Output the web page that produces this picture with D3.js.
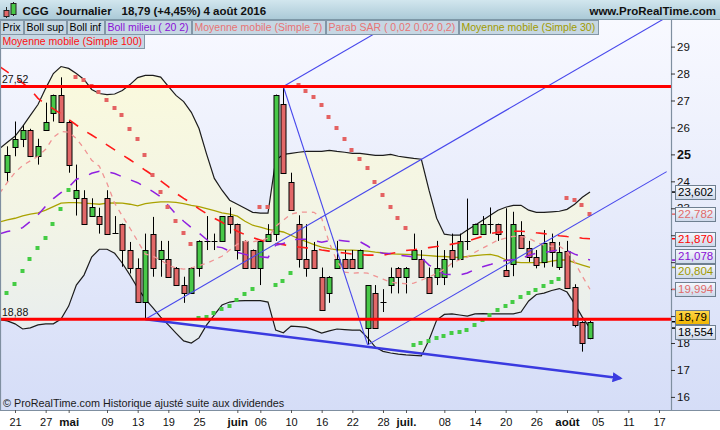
<!DOCTYPE html>
<html lang="fr">
<head>
<meta charset="utf-8">
<title>CGG – Journalier</title>
<script src="https://cdn.jsdelivr.net/npm/d3@7"></script>
<style>
  html, body { margin: 0; padding: 0; background: #ffffff; }
  svg { display: block; font-family: "Liberation Sans", Arial, sans-serif; }
</style>
</head>
<body>
<svg id="chart" width="720" height="430"></svg>
<script>
// ---------------------------------------------------------------
// CGG daily bars, 19 Apr 2016 -> 4 Aug 2016 (first row: indicators only)
// ---------------------------------------------------------------
const startDay = "2016-04-19";
const endDay   = "2016-08-18";   // the time axis runs past the last bar

const open  = [null, 24.33, 25.27, 25.58, 25.92, 24.94, 25.92, 26.55, 27.19, 26.22, 23.37,
  23.37, 22.71, 22.71, 23.37, 22.07, 22.41, 21.45, 20.80, 19.51, 22.06,
  21.10, 21.10, 20.80, 20.15, 19.84, 20.80, 21.79, 21.79, 21.79, 22.71,
  22.41, 21.79, 21.45, 20.80, 21.79, 22.06, 26.88, 23.98, 22.41, 21.10,
  21.45, 20.46, 19.84, 20.80, 21.10, 21.10, 20.80, 18.55, 19.84, 19.51,
  20.15, 20.80, 20.46, 21.10, 21.10, 20.46, 20.46, 20.46, 21.45, 21.10,
  21.79, 22.06, 22.06, 22.41, 22.41, 20.70, 20.95, 22.00, 21.51, 21.20,
  21.01, 21.75, 20.83, 21.41, 20.09, 18.79, 18.18];
const high  = [null, 25.30, 26.22, 26.08, 25.95, 25.58, 26.92, 27.22, 27.86, 26.25, 24.62,
  23.67, 23.37, 23.02, 23.67, 22.71, 22.43, 21.75, 21.14, 22.06, 22.68,
  21.79, 21.79, 20.82, 20.46, 20.82, 21.81, 22.71, 22.06, 22.71, 23.03,
  22.43, 21.81, 21.47, 21.81, 22.41, 27.22, 27.52, 24.32, 22.74, 22.41,
  21.75, 20.80, 20.48, 21.79, 21.45, 21.45, 21.47, 20.15, 20.15, 20.00,
  20.80, 20.82, 20.82, 22.06, 21.45, 20.80, 21.79, 21.45, 22.06, 22.06,
  23.36, 22.43, 22.71, 23.03, 22.43, 23.00, 22.87, 22.52, 21.79, 21.45,
  22.19, 22.06, 21.75, 21.79, 20.18, 18.81, 18.83];
const low   = [null, 23.98, 24.93, 25.27, 24.90, 24.62, 25.90, 26.22, 26.20, 24.32, 22.73,
  22.38, 22.69, 22.06, 22.04, 22.05, 20.83, 20.58, 19.49, 18.88, 20.46,
  20.46, 20.44, 20.13, 19.49, 19.82, 20.46, 21.45, 21.45, 21.77, 22.06,
  21.10, 20.78, 20.78, 20.15, 21.77, 21.79, 24.30, 22.93, 20.80, 20.46,
  20.78, 19.20, 19.49, 20.78, 20.78, 20.78, 20.78, 17.93, 18.53, 19.15,
  19.84, 19.84, 19.84, 21.08, 20.44, 19.82, 20.15, 20.15, 20.80, 21.08,
  21.45, 22.04, 22.04, 22.06, 21.79, 20.46, 20.48, 21.49, 21.01, 20.77,
  20.80, 20.83, 20.71, 20.01, 18.58, 17.68, 18.14];
const close = [null, 24.96, 25.58, 25.92, 24.94, 25.30, 26.22, 27.19, 26.22, 24.62, 23.67,
  22.41, 23.05, 22.41, 22.06, 22.07, 21.45, 20.80, 19.51, 21.45, 20.80,
  21.45, 20.46, 20.15, 19.84, 20.80, 21.79, 21.80, 21.79, 22.71, 22.41,
  21.45, 20.80, 20.80, 21.79, 22.06, 27.19, 24.32, 22.95, 21.10, 20.80,
  20.80, 19.22, 20.46, 21.10, 20.80, 20.80, 21.45, 20.15, 18.55, 19.51,
  20.46, 20.46, 20.80, 21.45, 20.46, 19.84, 20.80, 21.10, 21.10, 21.79,
  21.80, 22.41, 22.41, 22.42, 22.06, 20.48, 22.41, 21.51, 21.18, 20.89,
  21.72, 21.36, 21.36, 20.03, 18.67, 17.99, 18.79];

// Bollinger (20, 2)
const bollSup = [25.22, 25.45, 25.67, 26.04, 26.45, 26.85, 27.45, 28.00, 28.26, 28.19,
  28.00, 27.78, 27.41, 27.26, 27.22, 27.24, 27.37, 27.59, 27.85, 27.93,
  27.93, 27.87, 27.52, 27.19, 26.96, 26.56, 25.96, 25.00, 24.11, 23.67,
  23.30, 23.15, 23.00, 22.85, 22.82, 22.82, 24.78, 25.00, 25.04, 25.08,
  25.11, 25.11, 25.11, 25.15, 25.11, 25.08, 25.04, 25.04, 25.00, 24.96,
  24.96, 25.00, 24.93, 24.89, 24.85, 24.82, 23.67, 22.63, 22.04, 22.00,
  22.00, 22.19, 22.37, 22.56, 22.74, 22.93, 23.04, 23.11, 23.11, 22.93,
  22.85, 22.85, 22.87, 22.89, 22.96, 23.15, 23.41, 23.602];
const bollInf = [18.87, 18.82, 18.71, 18.52, 18.56, 18.67, 18.71, 18.71, 18.89, 19.37,
  20.15, 20.52, 21.19, 21.48, 21.48, 21.33, 20.96, 20.52, 20.04, 19.63,
  19.30, 18.96, 18.67, 18.37, 18.08, 18.00, 18.19, 18.67, 19.04, 19.41,
  19.52, 19.56, 19.57, 19.57, 19.57, 19.52, 18.48, 18.38, 18.63, 18.61,
  18.58, 18.48, 18.37, 18.45, 18.52, 18.50, 18.48, 18.48, 18.19, 17.85,
  17.69, 17.63, 17.59, 17.56, 17.54, 17.52, 18.11, 18.85, 19.06, 19.08,
  19.04, 19.00, 19.08, 19.09, 19.08, 19.08, 19.08, 19.08, 19.15, 19.56,
  19.80, 19.85, 19.95, 20.02, 19.89, 19.45, 18.96, 18.554];
const bollMid = [22.05, 22.14, 22.19, 22.28, 22.51, 22.76, 23.08, 23.36, 23.58, 23.78,
  24.08, 24.15, 24.30, 24.37, 24.35, 24.29, 24.17, 24.06, 23.95, 23.78,
  23.62, 23.42, 23.10, 22.78, 22.52, 22.28, 22.08, 21.84, 21.58, 21.54,
  21.41, 21.36, 21.29, 21.21, 21.20, 21.17, 21.63, 21.69, 21.84, 21.85,
  21.85, 21.80, 21.74, 21.80, 21.82, 21.79, 21.76, 21.76, 21.60, 21.41,
  21.33, 21.32, 21.26, 21.23, 21.20, 21.17, 20.89, 20.74, 20.55, 20.54,
  20.52, 20.60, 20.73, 20.83, 20.91, 21.01, 21.06, 21.10, 21.13, 21.25,
  21.33, 21.35, 21.41, 21.46, 21.43, 21.30, 21.19, 21.078];

// Moving averages
const ma7 = [23.56, 23.96, 24.33, 24.59, 24.76, 24.93, 25.19, 25.63, 25.85, 25.82,
  25.59, 25.22, 24.78, 24.56, 23.93, 23.19, 22.71, 22.26, 21.78, 21.30,
  21.22, 21.08, 20.89, 20.78, 20.74, 20.79, 20.87, 20.96, 21.09, 21.22,
  21.45, 21.67, 21.78, 21.76, 21.80, 21.89, 22.33, 22.56, 22.78, 22.85,
  22.86, 22.85, 22.63, 21.71, 21.04, 20.63, 20.59, 20.61, 20.59, 20.48,
  20.37, 20.26, 20.22, 20.20, 20.22, 20.33, 20.45, 20.58, 20.74, 20.96,
  21.09, 21.19, 21.37, 21.52, 21.67, 21.82, 21.89, 21.96, 21.96, 21.89,
  21.74, 21.63, 21.59, 21.59, 21.41, 21.00, 20.48, 19.994];
const ma30 = [22.49, 22.57, 22.63, 22.72, 22.78, 22.83, 22.93, 23.06, 23.19, 23.21,
  23.21, 23.19, 23.17, 23.15, 23.19, 23.20, 23.19, 23.15, 23.09, 23.17,
  23.21, 23.24, 23.24, 23.22, 23.17, 23.11, 23.06, 22.99, 22.91, 22.83,
  22.78, 22.71, 22.52, 22.37, 22.30, 22.22, 22.17, 22.12, 22.00, 21.87,
  21.76, 21.65, 21.56, 21.50, 21.46, 21.45, 21.45, 21.43, 21.41, 21.37,
  21.34, 21.31, 21.30, 21.29, 21.28, 21.26, 21.24, 21.22, 21.21, 21.19,
  21.18, 21.21, 21.24, 21.27, 21.29, 21.22, 21.09, 21.01, 20.98, 20.98,
  20.98, 20.98, 21.04, 21.08, 21.08, 20.98, 20.89, 20.804];
const ma100 = [28.26, 28.06, 27.85, 27.65, 27.41, 27.08, 26.85, 26.69, 26.50, 26.30,
  26.09, 25.89, 25.72, 25.54, 25.35, 25.17, 24.98, 24.80, 24.61, 24.41,
  24.22, 24.02, 23.80, 23.56, 23.37, 23.19, 22.98, 22.80, 22.63, 22.48,
  22.30, 22.15, 22.02, 21.91, 21.82, 21.74, 21.69, 21.65, 21.59, 21.56,
  21.53, 21.50, 21.45, 21.41, 21.37, 21.34, 21.30, 21.28, 21.26, 21.26,
  21.26, 21.32, 21.37, 21.43, 21.46, 21.50, 21.54, 21.58, 21.61, 21.67,
  21.72, 21.78, 21.87, 21.96, 22.06, 22.11, 22.13, 22.15, 22.15, 22.13,
  22.09, 22.06, 22.02, 21.98, 21.95, 21.93, 21.89, 21.870];

// Parabolic SAR (0,02 0,02 0,2)
const sar = [null, 19.86, 20.19, 20.67, 21.11, 21.53, 21.90, 22.41, 22.96, 23.67,
  27.86, 27.77, 27.53, 27.33, 27.00, 26.72, 26.45, 25.95, 25.56, 24.96,
  24.22, 23.61, 23.05, 22.53, 22.09, 21.69, 18.92, 18.98, 19.12, 19.25,
  19.38, 19.59, 19.82, 20.01, 23.05, 23.03, 20.15, 20.31, 20.58, 27.56,
  27.37, 27.12, 26.85, 26.38, 25.98, 25.56, 25.15, 24.82, 24.49, 23.98,
  23.48, 23.05, 22.64, 22.27, 17.93, 18.01, 18.09, 18.20, 18.27, 18.36,
  18.42, 18.48, 18.67, 18.85, 19.04, 19.22, 19.38, 19.53, 19.72, 19.86,
  19.96, 20.12, 20.25, 20.38, 23.38, 23.30, 23.14, 22.782];

// Time axis
const dayTicks  = ["2016-04-21", "2016-04-27", "2016-05-02", "2016-05-09", "2016-05-13",
  "2016-05-19", "2016-05-25", "2016-06-01", "2016-06-06", "2016-06-10", "2016-06-16",
  "2016-06-22", "2016-06-28", "2016-07-01", "2016-07-08", "2016-07-14", "2016-07-20",
  "2016-07-26", "2016-08-01", "2016-08-05", "2016-08-11", "2016-08-17"];
const dayTickLabels = ["21", "27", "mai", "09", "13", "19", "25", "juin", "06", "10", "16",
  "22", "28", "juil.", "08", "14", "20", "26", "août", "05", "11", "17"];
const monthNames = ["mai", "juin", "juil.", "août"];

// Price axis
const priceTicks = [16, 17, 18, 19, 20, 21, 22, 23, 24, 25, 26, 27, 28, 29];

// Drawn support / resistance levels
const levels = [27.52, 18.88];

// Drawn trend lines: [start day, price] -> [end day, price]
const channelLines = [
  [["2016-05-16", 18.88], ["2016-08-18", 30.09]],
  [["2016-06-09", 27.52], ["2016-07-04", 30.32]],
  [["2016-06-09", 27.52], ["2016-06-24", 17.93]],
  [["2016-06-24", 17.93], ["2016-08-18", 24.36]]
];
const supportArrow = [["2016-05-16", 18.88], ["2016-08-10", 16.69]];

// Legend entries
const legendRow1 = [
  ["Prix", "#000000"], ["Boll sup", "#000000"], ["Boll inf", "#000000"],
  ["Boll milieu ( 20 2)", "#8a10d6"], ["Moyenne mobile (Simple 7)", "#e87474"],
  ["Parab SAR ( 0,02 0,02 0,2)", "#e87474"], ["Moyenne mobile (Simple 30)", "#a09a00"]
];
const legendRow2 = [["Moyenne mobile (Simple 100)", "#ff1010"]];

// Last-value tags on the price axis
const lastValues = [
  { v: 23.602, label: "23,602", color: "#000000" },
  { v: 22.782, label: "22,782", color: "#e06a6a" },
  { v: 21.870, label: "21,870", color: "#ff0000" },
  { v: 21.078, label: "21,078", color: "#8a10d6" },
  { v: 20.804, label: "20,804", color: "#a09a00" },
  { v: 19.994, label: "19,994", color: "#e06a6a" },
  { v: 18.79,  label: "18,79",  color: "#000000", price: true },
  { v: 18.554, label: "18,554", color: "#000000" }
];

// ---------------------------------------------------------------
const svg = d3.select("#chart");
const W = 720, H = 430;
const plotL = 0, plotR = 671, plotT = 20, plotB = 410;

const parseDay = d3.utcParse("%Y-%m-%d");
const fmtDay = d3.utcFormat("%Y-%m-%d");
const days = d3.utcDay.range(parseDay(startDay), d3.utcDay.offset(parseDay(endDay), 1))
  .filter(d => d.getUTCDay() !== 0 && d.getUTCDay() !== 6)
  .map(fmtDay);

const x = d3.scalePoint().domain(days).range([-0.33, 666.67]);
const y = d3.scaleLinear().domain([16, 29]).range([396.9, 46.6]);
const xi = i => x(days[i]);

// ---- defs ----
const defs = svg.append("defs");
function vGrad(id, stops, y1, y2, units) {
  const g = defs.append("linearGradient").attr("id", id)
    .attr("gradientUnits", units || "userSpaceOnUse")
    .attr("x1", 0).attr("x2", 0).attr("y1", y1).attr("y2", y2);
  stops.forEach(([o, c]) => g.append("stop").attr("offset", o).attr("stop-color", c));
}
vGrad("bg", [[0, "#f8f9ff"], [1, "#d5ddf7"]], plotT, plotB);
vGrad("band", [[0, "#fbfadc"], [0.55, "#f2f4e6"], [1, "#e6ecf0"]], 60, 360);
vGrad("head", [[0, "#d2e6ee"], [1, "#a9c8d6"]], 0, 20);
vGrad("tag", [[0, "#f6f8fd"], [1, "#cdd8ea"]], 0, 1, "objectBoundingBox");
vGrad("tagGold", [[0, "#ffd84a"], [1, "#f0b400"]], 0, 1, "objectBoundingBox");
defs.append("clipPath").attr("id", "plotClip")
  .append("rect").attr("x", plotL).attr("y", plotT).attr("width", plotR - plotL).attr("height", plotB - plotT);
defs.append("marker").attr("id", "arrow")
  .attr("viewBox", "0 0 10 10").attr("refX", 8).attr("refY", 5)
  .attr("markerWidth", 4.2).attr("markerHeight", 4.2).attr("markerUnits", "strokeWidth")
  .attr("orient", "auto")
  .append("path").attr("d", "M0,0 L10,5 L0,10 Z").attr("fill", "#3a3ae0");

// ---- background ----
svg.append("rect").attr("x", 0).attr("y", 0).attr("width", W).attr("height", H).attr("fill", "#ffffff");
svg.append("rect").attr("x", 0).attr("y", plotT).attr("width", W).attr("height", plotB - plotT).attr("fill", "url(#bg)");

const plot = svg.append("g").attr("clip-path", "url(#plotClip)");
const idx = d3.range(days.length).filter(i => i < bollSup.length);

// ---- Bollinger envelope ----
plot.append("path")
  .attr("d", d3.area().x(i => xi(i)).y0(i => y(bollInf[i])).y1(i => y(bollSup[i]))(idx))
  .attr("fill", "url(#band)");

function seriesLine(values, style) {
  const p = plot.append("path")
    .attr("d", d3.line().defined(i => values[i] != null).x(i => xi(i)).y(i => y(values[i]))(idx))
    .attr("fill", "none");
  Object.entries(style).forEach(([k, v]) => p.attr(k, v));
}
seriesLine(bollSup, { stroke: "#1c1c1c", "stroke-width": 1.2 });
seriesLine(bollInf, { stroke: "#1c1c1c", "stroke-width": 1.2 });
seriesLine(ma30, { stroke: "#aaa200", "stroke-width": 1.3 });

// ---- candles ----
const candles = plot.append("g");
idx.filter(i => open[i] != null).forEach(i => {
  const cx = Math.round(xi(i));
  const up = close[i] >= open[i];
  candles.append("line")
    .attr("x1", cx + 0.5).attr("x2", cx + 0.5)
    .attr("y1", y(high[i])).attr("y2", y(low[i]))
    .attr("stroke", "#000").attr("stroke-width", 1);
  const top = y(Math.max(open[i], close[i])), bot = y(Math.min(open[i], close[i]));
  if (bot - top < 1.5) {
    candles.append("line")
      .attr("x1", cx - 2.5).attr("x2", cx + 3.5)
      .attr("y1", Math.round(top) + 0.5).attr("y2", Math.round(top) + 0.5)
      .attr("stroke", "#000").attr("stroke-width", 1);
  } else {
    candles.append("rect")
      .attr("x", cx - 2).attr("width", 5)
      .attr("y", Math.round(top) + 0.5).attr("height", Math.round(bot) - Math.round(top))
      .attr("fill", up ? "#48c848" : "#e26868")
      .attr("stroke", "#000").attr("stroke-width", 1);
  }
});

// ---- moving averages / middle band ----
seriesLine(ma100, { stroke: "#ff1a1a", "stroke-width": 1.6, "stroke-dasharray": "11 11" });
seriesLine(bollMid, { stroke: "#9020e0", "stroke-width": 1.5, "stroke-dasharray": "11 11" });
seriesLine(ma7, { stroke: "#f09494", "stroke-width": 1.3, "stroke-dasharray": "5 5" });

// ---- parabolic SAR ----
plot.append("g").selectAll("rect")
  .data(idx.filter(i => sar[i] != null))
  .join("rect")
  .attr("x", i => Math.round(xi(i)) - 2.5).attr("y", i => Math.round(y(sar[i])) - 2)
  .attr("width", 4).attr("height", 4)
  .attr("fill", i => sar[i] > close[i] ? "#e46262" : "#44cc44");

// ---- trend lines ----
channelLines.forEach(([a, b]) => {
  plot.append("line")
    .attr("x1", x(a[0])).attr("y1", y(a[1]))
    .attr("x2", x(b[0])).attr("y2", y(b[1]))
    .attr("stroke", "#4848ec").attr("stroke-width", 1.1);
});
plot.append("line")
  .attr("x1", x(supportArrow[0][0])).attr("y1", y(supportArrow[0][1]))
  .attr("x2", x(supportArrow[1][0])).attr("y2", y(supportArrow[1][1]))
  .attr("stroke", "#3a3ae0").attr("stroke-width", 2.4)
  .attr("marker-end", "url(#arrow)");

// ---- horizontal levels ----
levels.forEach(v => {
  plot.append("line")
    .attr("x1", plotL).attr("x2", plotR)
    .attr("y1", y(v)).attr("y2", y(v))
    .attr("stroke", "#ff0000").attr("stroke-width", 3);
  svg.append("text")
    .attr("x", 2).attr("y", y(v) - 3)
    .attr("font-size", 10.5).attr("fill", "#111")
    .text(d3.format(".2f")(v).replace(".", ","));
});

// ---- frame ----
svg.append("line").attr("x1", plotR + 0.5).attr("x2", plotR + 0.5).attr("y1", plotT).attr("y2", plotB)
  .attr("stroke", "#7f8fa0").attr("stroke-width", 1.2);
svg.append("line").attr("x1", 0.5).attr("x2", 0.5).attr("y1", plotT).attr("y2", plotB)
  .attr("stroke", "#7f8fa0").attr("stroke-width", 1.2);

// ---- bottom time axis ----
const xAxis = d3.axisBottom(x)
  .tickValues(dayTicks)
  .tickSize(3).tickPadding(5)
  .tickFormat((d, k) => dayTickLabels[k]);
const gx = svg.append("g").attr("transform", `translate(0,${plotB})`).call(xAxis);
gx.select(".domain").attr("d", `M0,0.5H${W}`).attr("stroke", "#7f8fa0").attr("stroke-width", 1.2);
gx.selectAll(".tick line").attr("stroke", "#555");
gx.selectAll(".tick text")
  .attr("fill", "#111")
  .attr("font-family", "\"Liberation Sans\", Arial, sans-serif")
  .attr("font-size", (d, k) => monthNames.includes(dayTickLabels[k]) ? 11.5 : 11)
  .attr("font-weight", (d, k) => monthNames.includes(dayTickLabels[k]) ? "bold" : "normal");

// ---- last-value tag layout (spread tags so they do not overlap) ----
const tags = lastValues.map(d => ({ ...d, ty: y(d.v), cy: y(d.v) })).sort((a, b) => a.ty - b.ty);
const minGap = 15;
for (let k = 0; k < 200; k++) {
  let moved = false;
  for (let i = 0; i < tags.length - 1; i++) {
    const a = tags[i], b = tags[i + 1];
    if (b.cy - a.cy < minGap - 0.01) {
      const m = (a.cy + b.cy) / 2;
      a.cy = m - minGap / 2; b.cy = m + minGap / 2; moved = true;
    }
  }
  if (!moved) break;
}

// ---- right price axis: a label stays visible unless the tags cover most of it ----
function coveredShare(v) {
  const top = y(v) - 4, bot = y(v) + 4;
  let covered = 0;
  tags.forEach(t => {
    const a = Math.max(top, t.cy - 7), b = Math.min(bot, t.cy + 7);
    if (b > a) covered += b - a;
  });
  return covered / (bot - top);
}
const shownTicks = priceTicks.filter(v => coveredShare(v) < 0.7);
const yAxis = d3.axisRight(y).tickValues(priceTicks).tickSize(4).tickPadding(2)
  .tickFormat(v => shownTicks.includes(v) ? d3.format("d")(v) : "");
const gy = svg.append("g").attr("transform", `translate(${plotR},0)`).call(yAxis);
gy.select(".domain").remove();
gy.selectAll(".tick line").attr("stroke", "#333");
gy.selectAll(".tick text")
  .attr("fill", "#111")
  .attr("font-family", "\"Liberation Sans\", Arial, sans-serif")
  .attr("font-size", d => d === 25 ? 12.5 : 11.5)
  .attr("font-weight", d => d === 25 ? "bold" : "normal");

// ---- value tags ----
const tagLayer = svg.append("g");
tags.forEach(t => {
  tagLayer.append("line").attr("x1", plotR + 1).attr("x2", plotR + 5)
    .attr("y1", t.ty).attr("y2", t.ty).attr("stroke", t.color).attr("stroke-width", 1.5);
  const g = tagLayer.append("g");
  const rect = g.append("rect");
  const txt = g.append("text").attr("x", plotR + 7).attr("y", t.cy + 4)
    .attr("font-size", 11.5).attr("fill", t.color).text(t.label);
  const w = txt.node().getComputedTextLength();
  rect.attr("x", plotR + 4.5).attr("y", Math.round(t.cy - 7) + 0.5)
    .attr("width", Math.round(w) + 5).attr("height", 14)
    .attr("fill", t.price ? "url(#tagGold)" : "url(#tag)")
    .attr("stroke", "#6e7f90").attr("stroke-width", 1);
});

// ---- header bar ----
svg.append("rect").attr("x", 0).attr("y", 0).attr("width", W).attr("height", 20).attr("fill", "url(#head)");
svg.append("line").attr("x1", 0).attr("x2", W).attr("y1", 19.5).attr("y2", 19.5).attr("stroke", "#7d97a6");
const icon = svg.append("g");
icon.append("line").attr("x1", 6.5).attr("x2", 6.5).attr("y1", 7).attr("y2", 18).attr("stroke", "#222");
icon.append("rect").attr("x", 4).attr("y", 10.5).attr("width", 5).attr("height", 6).attr("fill", "#e26868").attr("stroke", "#222");
icon.append("line").attr("x1", 13.5).attr("x2", 13.5).attr("y1", 2).attr("y2", 16).attr("stroke", "#222");
icon.append("rect").attr("x", 11).attr("y", 3.5).attr("width", 5).attr("height", 11).attr("fill", "#48c848").attr("stroke", "#222");

const headItems = [["CGG", 22.5], ["Journalier", 56], ["18,79 (+4,45%)", 121.5], ["4 août 2016", 203.5]];
headItems.forEach(([t, px]) => svg.append("text").attr("x", px).attr("y", 15)
  .attr("font-size", 11.5).attr("font-weight", "bold").attr("fill", "#111").text(t));
svg.append("text").attr("x", 716).attr("y", 15).attr("text-anchor", "end")
  .attr("font-size", 11.5).attr("font-weight", "bold").attr("fill", "#111").text("www.ProRealTime.com");

// ---- legend boxes ----
function legendRow(items, y0) {
  let cx = 0;
  items.forEach(([label, color]) => {
    const g = svg.append("g");
    const r = g.append("rect");
    const t = g.append("text").attr("x", cx + 2.5).attr("y", y0 + 11)
      .attr("font-size", 10.5).attr("fill", color).text(label);
    const w = Math.round(t.node().getComputedTextLength()) + 6;
    r.attr("x", cx + 0.5).attr("y", y0 + 0.5).attr("width", w - 1).attr("height", 14)
      .attr("fill", "#c6d7e3").attr("stroke", "#8397a7").attr("stroke-width", 1);
    cx += w;
  });
}
legendRow(legendRow1, 20);
legendRow(legendRow2, 34);

// ---- footer note ----
svg.append("text").attr("x", 3).attr("y", 407)
  .attr("font-size", 10.8).attr("fill", "#1a1a1a")
  .text("© ProRealTime.com  Historique ajusté suite aux dividendes");
</script>
</body>
</html>
